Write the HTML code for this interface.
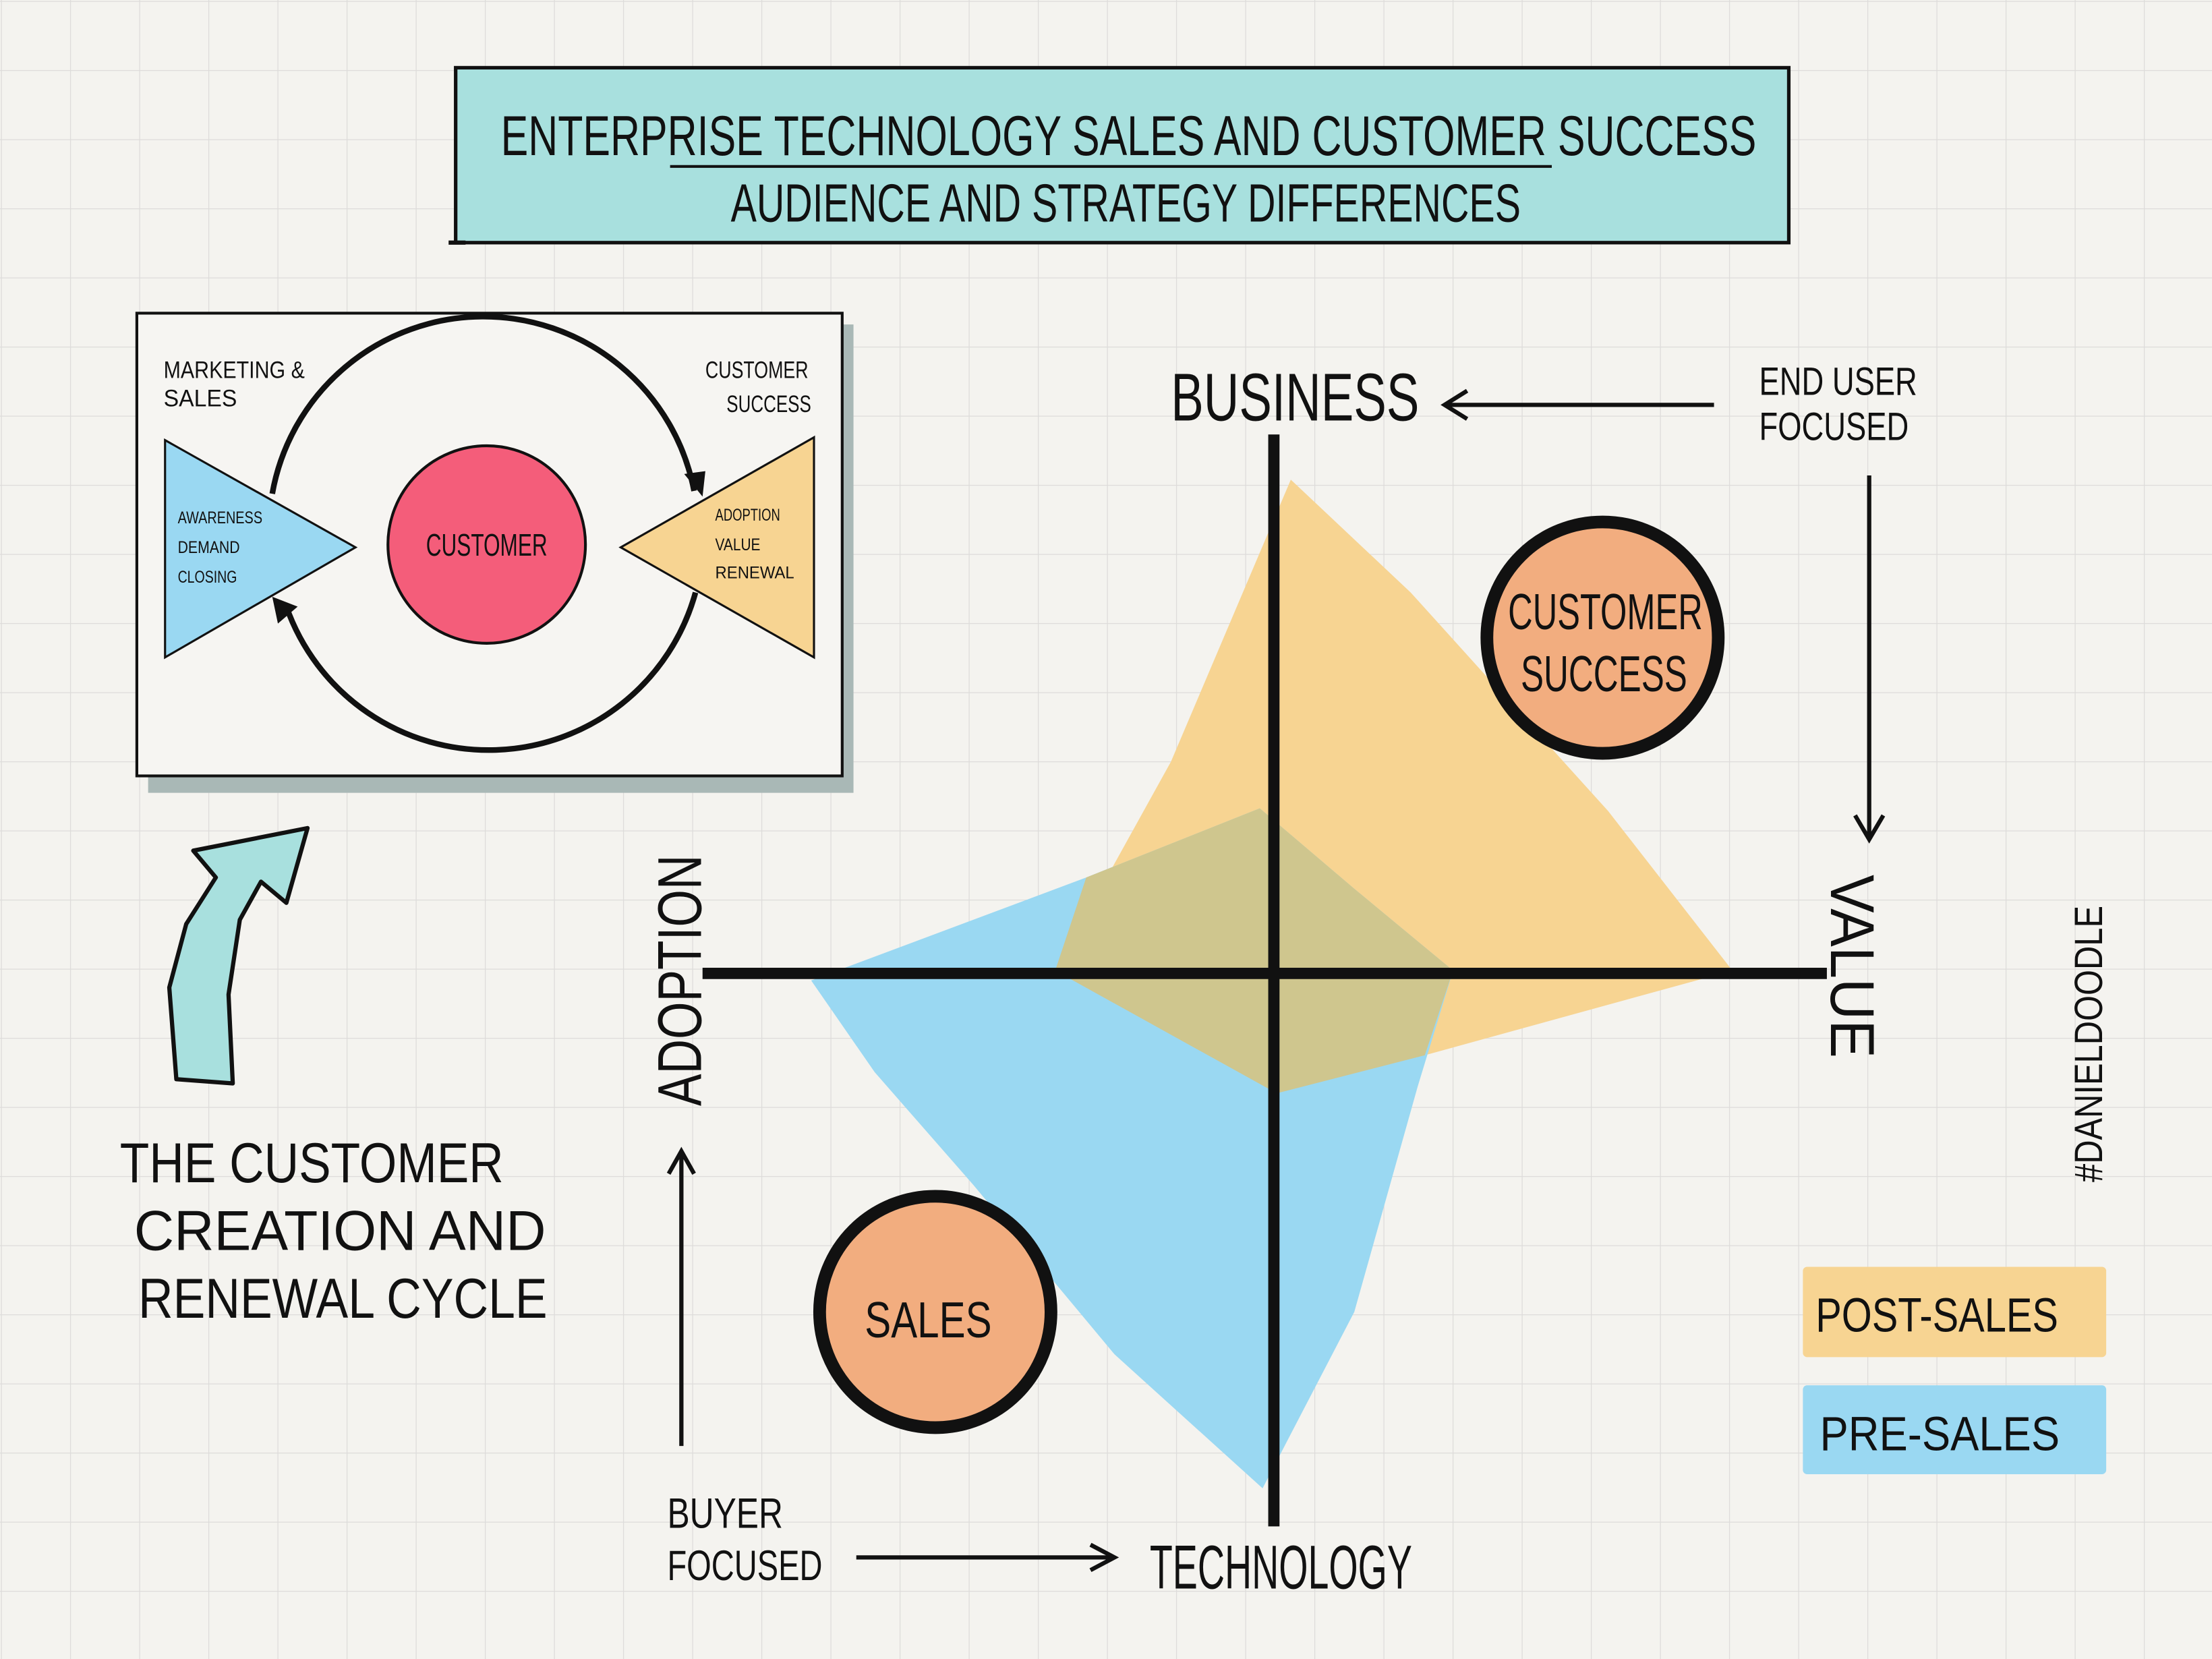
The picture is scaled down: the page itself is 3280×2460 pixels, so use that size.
<!DOCTYPE html>
<html><head><meta charset="utf-8"><style>
html,body{margin:0;padding:0;background:#f4f3ef;}
svg{display:block}
text{font-family:"Liberation Sans",sans-serif;fill:#111;}
</style></head><body>
<svg width="3280" height="2460" viewBox="0 0 1568 1176" xmlns="http://www.w3.org/2000/svg">
<defs>
<pattern id="g" x="0.7" y="0.7" width="49" height="49" patternUnits="userSpaceOnUse">
<path d="M0 0H49M0 0V49" stroke="#dddcda" stroke-width="1.2" fill="none"/>
</pattern>
<marker id="ah" viewBox="0 0 10 10" refX="9" refY="5" markerWidth="7" markerHeight="7" orient="auto-start-reverse" markerUnits="userSpaceOnUse">
</marker>
</defs>
<rect width="1568" height="1176" fill="#f4f3ef"/>
<rect width="1568" height="1176" fill="url(#g)"/>

<!-- title -->
<rect x="323" y="48" width="945" height="124" fill="#a8e0de" stroke="#111" stroke-width="2.5"/>
<line x1="318" y1="172" x2="330" y2="172" stroke="#111" stroke-width="3"/>
<text x="355" y="110" font-size="40" textLength="890" lengthAdjust="spacingAndGlyphs">ENTERPRISE TECHNOLOGY SALES AND CUSTOMER SUCCESS</text>
<line x1="475" y1="118" x2="1100" y2="118" stroke="#111" stroke-width="2"/>
<text x="518" y="157" font-size="38" textLength="560" lengthAdjust="spacingAndGlyphs">AUDIENCE AND STRATEGY DIFFERENCES</text>

<!-- small box -->
<rect x="105" y="230" width="500" height="332" fill="#a9b8b6"/>
<rect x="97" y="222" width="500" height="328" fill="#f6f5f2" stroke="#111" stroke-width="2"/>
<path d="M193 350 A152 152 0 0 1 492 348" fill="none" stroke="#111" stroke-width="4"/>
<polygon points="485,336 498,352 500,334" fill="#111"/>
<path d="M493 420 A152 152 0 0 1 203 430" fill="none" stroke="#111" stroke-width="4"/>
<polygon points="193,423 197,442 211,430" fill="#111"/>
<polygon points="117,312 252,388 117,466" fill="#9ad8f2" stroke="#111" stroke-width="1.5"/>
<polygon points="577,310 440,388 577,466" fill="#f7d492" stroke="#111" stroke-width="1.5"/>
<circle cx="345" cy="386" r="70" fill="#f45d7a" stroke="#111" stroke-width="2"/>
<text x="345" y="394" font-size="22" text-anchor="middle" textLength="86" lengthAdjust="spacingAndGlyphs">CUSTOMER</text>
<text x="116" y="268" font-size="17" textLength="100" lengthAdjust="spacingAndGlyphs">MARKETING &amp;</text>
<text x="116" y="288" font-size="17" textLength="52" lengthAdjust="spacingAndGlyphs">SALES</text>
<text x="500" y="268" font-size="17" textLength="73" lengthAdjust="spacingAndGlyphs">CUSTOMER</text>
<text x="515" y="292" font-size="17" textLength="60" lengthAdjust="spacingAndGlyphs">SUCCESS</text>
<text x="126" y="371" font-size="12" textLength="60" lengthAdjust="spacingAndGlyphs">AWARENESS</text>
<text x="126" y="392" font-size="12" textLength="44" lengthAdjust="spacingAndGlyphs">DEMAND</text>
<text x="126" y="413" font-size="12" textLength="42" lengthAdjust="spacingAndGlyphs">CLOSING</text>
<text x="507" y="369" font-size="12" textLength="46" lengthAdjust="spacingAndGlyphs">ADOPTION</text>
<text x="507" y="390" font-size="12" textLength="32" lengthAdjust="spacingAndGlyphs">VALUE</text>
<text x="507" y="410" font-size="12" textLength="56" lengthAdjust="spacingAndGlyphs">RENEWAL</text>

<!-- teal arrow -->
<polygon points="125,765 120,700 132,655 153,622 137,603 218,587 203,640 185,625 170,652 162,705 165,768" fill="#a8e0de" stroke="#111" stroke-width="3" stroke-linejoin="round"/>
<text x="85" y="838" font-size="40" textLength="272" lengthAdjust="spacingAndGlyphs">THE CUSTOMER</text>
<text x="95" y="886" font-size="40" textLength="292" lengthAdjust="spacingAndGlyphs">CREATION AND</text>
<text x="98" y="934" font-size="40" textLength="290" lengthAdjust="spacingAndGlyphs">RENEWAL CYCLE</text>

<!-- quadrants -->
<polygon points="915,340 1000,420 1140,575 1228,688 1010,748 905,775 748,688 830,540" fill="#f7d492"/>
<polygon points="575,695 770,622 893,573 960,630 1030,688 1005,770 960,930 895,1055 790,960 690,840 620,760" fill="#9ad8f2"/>
<polygon points="770,622 893,573 960,630 1030,688 1010,748 905,775 748,688" fill="#cfc68e"/>
<line x1="903" y1="308" x2="903" y2="1082" stroke="#111" stroke-width="8"/>
<line x1="498" y1="690" x2="1295" y2="690" stroke="#111" stroke-width="8"/>

<circle cx="1136" cy="452" r="82" fill="#f2ad7f" stroke="#111" stroke-width="9"/>
<text x="1138" y="446" font-size="36" text-anchor="middle" textLength="138" lengthAdjust="spacingAndGlyphs">CUSTOMER</text>
<text x="1137" y="490" font-size="36" text-anchor="middle" textLength="118" lengthAdjust="spacingAndGlyphs">SUCCESS</text>
<circle cx="663" cy="930" r="82" fill="#f2ad7f" stroke="#111" stroke-width="9"/>
<text x="658" y="948" font-size="36" text-anchor="middle" textLength="90" lengthAdjust="spacingAndGlyphs">SALES</text>

<!-- labels & arrows -->
<text x="830" y="298" font-size="48" textLength="176" lengthAdjust="spacingAndGlyphs">BUSINESS</text>
<line x1="1215" y1="287" x2="1026" y2="287" stroke="#111" stroke-width="3"/>
<polyline points="1040,277 1024,287 1040,297" fill="none" stroke="#111" stroke-width="3"/>
<text x="1247" y="280" font-size="28" textLength="112" lengthAdjust="spacingAndGlyphs">END USER</text>
<text x="1247" y="312" font-size="28" textLength="106" lengthAdjust="spacingAndGlyphs">FOCUSED</text>
<line x1="1325" y1="337" x2="1325" y2="593" stroke="#111" stroke-width="3"/>
<polyline points="1315,578 1325,595 1335,578" fill="none" stroke="#111" stroke-width="3"/>
<text transform="translate(1298,620) rotate(90)" font-size="44" textLength="130" lengthAdjust="spacingAndGlyphs">VALUE</text>
<text transform="translate(497,784) rotate(-90)" font-size="44" textLength="178" lengthAdjust="spacingAndGlyphs">ADOPTION</text>
<line x1="483" y1="1025" x2="483" y2="818" stroke="#111" stroke-width="3"/>
<polyline points="474,832 483,816 492,832" fill="none" stroke="#111" stroke-width="3"/>
<text x="473" y="1083" font-size="30" textLength="82" lengthAdjust="spacingAndGlyphs">BUYER</text>
<text x="473" y="1120" font-size="30" textLength="110" lengthAdjust="spacingAndGlyphs">FOCUSED</text>
<line x1="607" y1="1104" x2="788" y2="1104" stroke="#111" stroke-width="3"/>
<polyline points="773,1095 790,1104 773,1113" fill="none" stroke="#111" stroke-width="3"/>
<text x="815" y="1126" font-size="44" textLength="186" lengthAdjust="spacingAndGlyphs">TECHNOLOGY</text>
<text transform="translate(1490,838) rotate(-90)" font-size="28" textLength="196" lengthAdjust="spacingAndGlyphs">#DANIELDOODLE</text>

<rect x="1278" y="898" width="215" height="64" rx="3" fill="#f7d492"/>
<text x="1287" y="944" font-size="34" textLength="172" lengthAdjust="spacingAndGlyphs">POST-SALES</text>
<rect x="1278" y="982" width="215" height="63" rx="3" fill="#9ad8f2"/>
<text x="1290" y="1028" font-size="34" textLength="170" lengthAdjust="spacingAndGlyphs">PRE-SALES</text>
</svg>
</body></html>
